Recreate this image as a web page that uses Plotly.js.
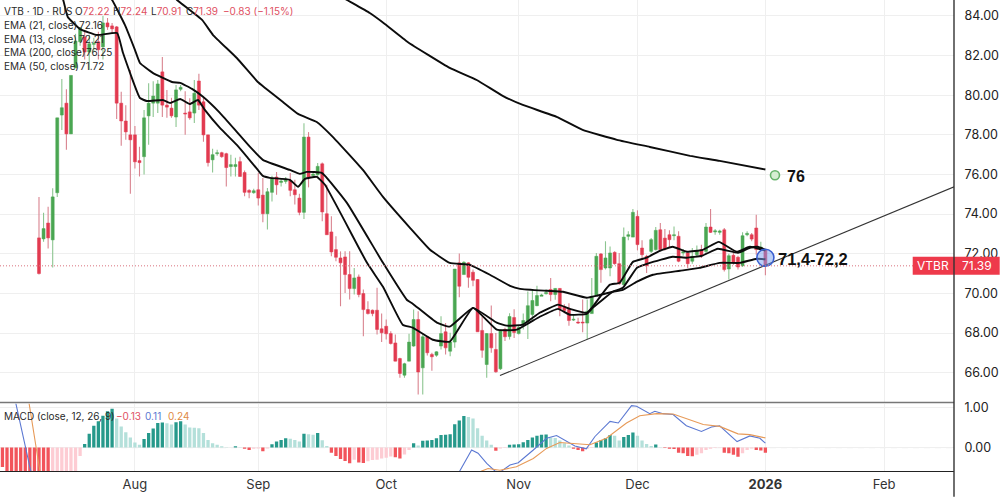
<!DOCTYPE html>
<html><head><meta charset="utf-8">
<script src="https://cdn.plot.ly/plotly-3.0.1.min.js"></script>
<style>html,body{margin:0;padding:0;background:#fff}#c{width:1000px;height:497px}</style>
</head><body><div id="c"></div>
<script>
// Candles, bar 1..160
const open_=[72.8,72.75,73.55,72.7,75.08,79.0,79.6,78.05,81.38,82.7,82.94,82.18,82.57,82.7,82.44,83.65,83.5,83.45,79.6,78.7,
78.0,78.0,76.7,76.9,78.96,79.6,79.6,81.18,79.5,79.35,78.9,80.3,79.1,79.16,79.1,80.72,79.67,78.0,76.74,77.05,
77.1,77.05,76.4,76.4,76.65,76.1,75.2,75.08,75.23,74.96,74.02,75.1,75.87,75.6,75.65,75.7,75.23,74.81,74.09,77.89,
75.95,75.99,76.54,74.02,73.1,72.21,71.79,71.84,70.95,70.24,70.83,69.99,69.18,69.15,69.15,68.21,68.34,67.97,67.5,66.71,
65.87,66.58,67.34,68.68,66.24,67.81,66.92,66.88,67.34,68.06,67.08,67.54,71.54,70.95,71.54,71.07,70.7,68.13,66.41,67.97,
67.17,66.19,68.18,67.82,68.78,67.97,68.38,68.57,68.93,69.38,69.85,69.98,70.2,69.94,70.25,69.33,69.18,68.65,68.55,68.55,
68.5,68.98,69.89,71.99,71.28,71.28,72.07,71.5,70.44,72.88,72.84,73.89,72.29,71.87,72.12,72.21,73.21,72.79,72.96,72.91,
72.88,72.04,72.04,71.62,71.95,72.21,72.12,73.35,73.1,73.08,73.21,71.23,71.92,71.82,71.4,72.96,72.96,73.3,72.21,72.22];
const high_=[74.87,74.07,74.37,75.3,78.86,80.82,80.3,81.0,83.1,83.45,83.2,83.05,82.9,83.2,84.0,83.9,83.65,83.5,80.17,79.5,
81.28,78.45,77.4,79.25,80.6,80.7,80.77,81.93,80.27,79.87,80.52,80.52,80.2,79.85,80.77,81.08,79.9,78.0,77.3,77.25,
77.15,77.1,77.0,76.85,76.9,76.2,75.25,75.28,76.07,75.82,75.32,75.94,76.12,75.82,75.87,76.07,75.74,75.03,78.59,78.14,
76.16,76.58,76.61,75.48,73.89,72.88,72.12,72.12,72.12,71.28,70.95,70.19,69.6,69.18,70.28,68.98,68.68,68.09,67.92,66.75,
66.5,67.96,69.18,69.1,67.92,67.84,67.0,67.08,68.85,68.51,68.01,71.23,72.01,71.62,71.57,71.2,70.73,68.85,68.0,69.39,
68.0,68.18,68.26,69.0,69.2,68.38,68.98,70.1,70.2,70.39,69.98,70.19,70.78,70.27,70.27,69.45,69.5,68.93,68.77,69.69,
69.69,70.78,72.04,72.04,72.63,72.37,72.12,72.04,73.33,73.13,74.26,74.19,72.68,71.95,72.79,73.35,73.55,73.25,73.18,73.38,
73.13,72.24,72.07,72.29,72.41,72.46,73.55,74.26,73.25,73.21,73.3,72.0,72.04,71.9,73.08,73.13,73.05,73.97,72.6,72.24];
const low_=[70.95,72.6,72.26,71.3,74.87,78.25,77.25,78.05,81.38,82.5,81.8,81.28,82.2,81.8,81.8,83.3,83.14,78.8,77.45,77.75,
75.03,76.3,75.9,76.0,77.5,78.9,79.1,78.9,78.86,78.86,78.4,80.2,78.0,78.76,78.6,79.25,77.65,76.4,76.1,76.95,
76.85,75.4,75.9,75.9,75.9,74.9,74.8,75.03,74.43,73.59,73.22,74.64,74.98,75.4,75.53,74.9,74.48,73.94,73.75,75.35,
75.82,75.87,73.64,72.96,71.87,71.62,69.35,70.02,69.69,69.94,69.8,67.84,68.93,68.85,67.92,67.54,67.67,67.42,66.58,65.74,
65.74,66.58,67.3,64.9,64.9,66.87,66.09,66.8,67.17,66.92,66.83,67.25,69.8,70.95,70.28,70.36,68.06,66.75,65.74,67.0,
66.0,66.13,67.59,67.67,67.75,67.92,68.18,67.7,68.67,69.35,69.9,69.94,69.6,69.68,68.85,69.0,68.37,68.6,68.45,68.04,
67.7,68.98,69.89,70.53,71.2,70.86,71.45,70.44,70.44,72.68,72.84,72.17,71.79,71.03,72.04,72.17,72.12,72.17,72.34,72.68,
71.57,71.9,71.28,71.5,71.87,71.79,72.04,73.05,72.96,72.96,71.1,70.7,71.45,71.2,71.33,72.88,72.63,71.95,72.12,70.91];
const close_=[71.0,73.27,72.8,74.87,78.86,79.37,78.05,81.0,82.74,83.4,82.18,82.6,82.62,82.3,83.65,83.45,83.35,79.6,78.7,78.15,
77.75,76.64,76.6,78.86,79.6,79.96,80.57,79.5,79.4,78.96,80.27,80.4,79.05,78.86,80.1,79.5,78.0,76.6,77.0,77.1,
76.9,76.35,76.5,76.5,75.9,75.1,75.1,75.18,74.81,74.02,75.13,75.77,75.48,75.67,75.72,75.2,74.98,74.09,77.89,75.87,
76.02,76.41,74.11,72.96,72.09,71.82,71.54,70.95,70.24,70.78,69.94,69.18,68.98,68.98,68.18,68.01,67.96,67.47,66.58,65.96,
66.45,67.54,68.68,66.03,67.81,67.0,66.8,67.05,67.97,67.25,67.54,71.23,70.36,71.57,70.81,70.66,68.06,67.13,67.97,67.25,
66.04,68.14,67.81,68.83,68.02,68.28,68.63,69.38,69.64,69.89,69.92,70.05,69.94,70.25,69.23,69.13,68.63,68.7,68.5,68.5,
69.1,69.85,71.87,71.2,71.79,72.04,71.5,70.48,72.84,72.96,74.09,72.46,71.95,71.4,72.71,73.18,72.21,72.24,72.71,72.96,
71.62,72.1,71.5,71.87,72.16,71.92,73.35,73.08,73.16,73.15,71.2,71.9,71.57,71.33,72.91,73.03,72.74,72.21,72.34,71.39];

// MACD histogram, bars -7..160
const histogram=[-.48,-.7,-.9,-1.1,-1.3,-1.45,-1.6,-1.7,-1.8,-1.9,-1.95,-1.8,-1.5,-1.2,-.95,-.75,-.6,-.21,
.09,.34,.54,.65,.79,.9,.96,.72,.52,.38,.25,.125,.07,.21,.36,.47,.61,.62,.6,.57,.63,.65,.57,.5,.49,.48,.36,.19,.11,.07,.03,.01,.005,.03,.01,
-.03,-.06,-.03,-.02,-.09,-.02,.08,.15,.19,.23,.22,.19,.15,.34,.33,.32,.36,.18,.04,-.13,-.21,-.28,-.33,-.39,-.3,-.37,-.38,-.34,-.31,-.3,-.27,-.25,-.22,-.24,
-.27,-.17,-.06,.11,.05,.17,.175,.19,.23,.31,.315,.33,.58,.67,.78,.76,.72,.48,.29,.175,.07,-.08,-.02,-.01,
.07,.075,.08,.13,.19,.25,.29,.32,.325,.25,.24,.175,.11,.05,-.03,-.06,-.09,-.03,-.01,.125,.19,.23,.31,.29,.175,.26,.31,.375,.29,.175,.09,.04,.075,.01,
-.01,-.03,-.035,-.125,-.14,-.21,-.215,-.18,-.14,-.06,-.03,-.01,-.005,-.125,-.14,-.18,-.225,-.14,-.06,-.02,-.06,-.075,-.13];

// MACD and signal lines, read at these bar positions
const macdBars=[-6,-4.25,-0.8,1,40,92,93.1,95.7,97.1,99,100.8,101.9,104.1,105.9,109.2,112.1,114.3,116.5,118.3,120.8,122.7,126,127.8,130.7,131.8,134.7,135.8,137.6,139.8,142.7,146,148.2,150,153.8,156.6,158.8,160];
const macdLine=[1.8,1.19,-.58,-1.3,-2,-.8,-.58,-.06,-.14,-.39,-.58,-.61,-.43,-.375,-.06,.23,.3,.15,.04,-.03,.275,.65,.61,1.04,1.025,.84,.9,.84,.82,.54,.4,.51,.54,.15,.29,.23,.11];
const signalBars=[-3,-1.3,1.2,5,50,96,97.9,99.3,101.9,105.5,109.2,112.1,115,118.7,121.6,125.2,129.6,132.5,136.2,139.8,142.7,146.4,150,154,156.6,160];
const signalLine=[2,1.19,-.58,-1.2,-1.6,-.7,-.58,-.52,-.56,-.475,-.27,-.02,.125,.09,.07,.23,.61,.79,.84,.83,.71,.57,.525,.34,.32,.24];

// EMAs, read at these bar positions
const ema200Bars=[64.7,68.4,73.4,76.7,81.7,90.9,96.8,102.5,106.9,114.3,120,127.5,134.7,143.5,150,160];
const ema200=[85.31,84.81,84.15,83.6,82.69,81.38,80.77,79.97,79.51,78.91,78.25,77.75,77.39,76.94,76.69,76.25];
const ema50Bars=[28.6,31.2,36.7,39.1,44.3,48.9,50.5,54.4,57.7,61.8,65.3,71.9,76.3,82.2,86.6,90.9,95.3,99.7,104.1,106.3,112.2,115.7,120.9,123.1,126.6,128.8,131.9,135.4,141.3,145.6,150,154.4,158.1,160];
const ema50=[85.41,84.81,83.8,83.04,81.88,80.67,80.37,79.66,79.06,78.65,77.9,76.23,74.87,73.31,72.2,71.54,71.44,70.94,70.38,70.23,70.13,70.08,69.78,69.88,70.08,70.18,70.59,70.94,71.14,71.29,71.54,71.54,71.75,71.72];
const ema21Bars=[14.3,17,19.8,22,23.1,25.9,30.1,31.9,34.5,36.9,40.6,44.3,47.2,50,55.9,58.1,59.6,62.9,68.4,76.3,81.5,82.8,88.1,90.9,96,101.2,103.4,106.9,110.6,114.6,117.2,120.9,122.2,125.9,128.1,131,134,136.9,139.7,142.8,146.3,149.8,153.7,156.6,160];
const ema21=[85.56,84.81,83.55,82.29,81.63,81.13,80.67,80.62,80.32,79.92,79.11,78.15,77.39,76.74,76.23,76.03,76.13,76.08,74.57,71.54,69.68,69.48,68.52,68.32,69.27,68.52,68.37,68.42,69.02,69.43,69.22,69.02,69.33,70.43,70.54,71.59,71.8,72.15,72.35,72.1,72.2,72.6,72.1,72.35,72.16];
const ema13Bars=[4.5,6.3,7.3,10,13.7,18.1,19.4,23.1,24.6,28.1,29.7,31.9,34,35.8,37.3,40.6,44.3,46.7,48.9,50,51.5,55.9,57.7,59.2,61.8,63.6,72.8,76.3,80.6,82.8,87.2,90.9,96,101.2,105.6,110.6,114.6,117.2,120.9,122.2,126.6,128.8,131.9,134.7,139.7,142.8,146.1,149.6,154,156.6,158.3,160];
const ema13=[85.8,84.81,83.95,83.34,83.04,83.14,82.13,79.86,79.71,79.76,79.61,79.81,79.56,79.76,79.26,78.35,77.49,76.84,76.23,75.93,75.83,75.73,75.38,75.78,75.88,75.48,71.54,70.33,68.42,68.27,67.66,67.56,69.27,68.17,68.17,68.82,69.22,68.92,68.97,69.27,70.08,70.28,71.29,71.54,71.85,71.8,71.9,72.25,72.05,72.3,72.35,72.2];

// Trendline and markers
const trendBars=[101.9,201.3];
const trendPrices=[65.85,75.38];
const targetBar=[162.1], targetPrice=[75.96];
const zoneBar=[160], zonePrice=[71.8];
const lastPrice=71.39;

// Axis labels
const dateTicks=[22,49,77,106,132,160,186];
const dateLabels=['Aug','Sep','Oct','Nov','Dec','<b>2026</b>','Feb'];
const priceTicks=[66,68,70,72,74,76,78,80,82,84];
const macdTicks=[0,1];

const W=954.3,H=471.3;
const FONT='Inter, Roboto, sans-serif';
const px=x=>x/W, py=y=>(H-y)/H;
const bars=open_.map((_,i)=>i+1);
const histBars=histogram.map((_,i)=>i-7);
const GREEN='#4aa652',RED='#e23a50',GW='#8cc590',RW='#d9838f';
const isUp=i=>close_[i]>=open_[i];

const histColors=histogram.map((v,i)=>{
  const p=i?histogram[i-1]:0;
  if(v>=0) return v>=p?'#26998b':'#b4e0da';
  return v<p?'#f2545b':'#fdccd3';
});

const emaTrace=(x,y)=>({type:'scatter',mode:'lines',x,y,xaxis:'x',yaxis:'y',line:{color:'#0c0c0c',width:1.9,shape:'spline',smoothing:.35},hoverinfo:'skip'});

const data=[
 // wicks: low to high
 {type:'bar',x:bars,base:low_,y:high_.map((h,i)=>h-low_[i]),xaxis:'x',yaxis:'y',width:.24,
  marker:{color:bars.map((_,i)=>isUp(i)?GW:RW),line:{width:0}},hoverinfo:'skip'},
 // bodies: open to close
 {type:'bar',x:bars,base:open_.map((o,i)=>Math.min(o,close_[i])),y:open_.map((o,i)=>Math.abs(o-close_[i])),xaxis:'x',yaxis:'y',width:.66,
  marker:{color:bars.map((_,i)=>isUp(i)?GREEN:RED),line:{color:bars.map((_,i)=>isUp(i)?GREEN:RED),width:.5}},hoverinfo:'skip'},
 emaTrace(ema200Bars,ema200),emaTrace(ema50Bars,ema50),emaTrace(ema21Bars,ema21),emaTrace(ema13Bars,ema13),
 {type:'scatter',mode:'lines',x:trendBars,y:trendPrices,xaxis:'x',yaxis:'y',line:{color:'#333',width:1.1},hoverinfo:'skip'},
 {type:'scatter',mode:'markers',x:targetBar,y:targetPrice,xaxis:'x',yaxis:'y',marker:{size:9,color:'#d5eed2',line:{color:'#66b36b',width:1.6}},hoverinfo:'skip'},
 {type:'scatter',mode:'markers',x:zoneBar,y:zonePrice,xaxis:'x',yaxis:'y',marker:{size:17,color:'rgba(120,160,240,.5)',line:{color:'#3b5fd0',width:1.6}},hoverinfo:'skip'},
 {type:'bar',x:histBars,y:histogram,xaxis:'x',yaxis:'y2',width:.72,marker:{color:histColors,line:{width:0}},hoverinfo:'skip'},
 {type:'scatter',mode:'lines',x:macdBars,y:macdLine,xaxis:'x',yaxis:'y2',line:{color:'#5b78d2',width:1.1},hoverinfo:'skip'},
 {type:'scatter',mode:'lines',x:signalBars,y:signalLine,xaxis:'x',yaxis:'y2',line:{color:'#e79a58',width:1.1},hoverinfo:'skip'}
];

const R='#e0505f',T='#2a2a2a';
const note=(x,y,text,opt={})=>Object.assign({xref:'paper',yref:'paper',x:px(x),y:py(y),xanchor:'left',yanchor:'middle',showarrow:false,text,borderpad:0,
  font:{family:FONT,size:10,color:T}},opt);
const col=(c,t)=>`<span style="color:${c}">${t}</span>`;
const annotations=[
 note(3,11.5,'VTB · 1D · RUS'),
 note(74,11.5,'O'+col(R,'72.22')),note(112,11.5,'H'+col(R,'72.24')),note(150,11.5,'L'+col(R,'70.91')),note(185,11.5,'C'+col(R,'71.39')),note(222,11.5,col(R,'−0.83 (−1.15%)')),
 note(3,25.5,'EMA (21, close)'),note(78,25.5,'72.16'),
 note(3,39,'EMA (13, close)'),note(78,39,'72.21'),
 note(3,52.5,'EMA (200, close)'),note(85,52.5,'76.25'),
 note(3,66,'EMA (50, close)'),note(79,66,'71.72'),
 note(3,416,'MACD (close, 12, 26, 9)'),note(115,416,col(R,'−0.13')),note(144,416,col('#5b78d2','0.11')),note(167,416,col('#e08a45','0.24')),
 note(786,177,'<b>76</b>',{font:{family:'Liberation Sans',size:16,color:'#111'}}),
 note(777,259,'<b>71,4-72,2</b>',{font:{family:'Liberation Sans',size:16.5,color:'#111'}}),
 note(933.5,266,'VTBR',{xanchor:'center',font:{family:FONT,size:12,color:'#fff'}}),
 note(977,266,'71.39',{xanchor:'center',font:{family:FONT,size:12,color:'#fff'}})
];

const shapes=[
 {type:'line',layer:'below',xref:'paper',yref:'y2',x0:0,x1:1,y0:0,y1:0,line:{color:'#cfcfcf',width:1,dash:'6px,5px'}},
 {type:'line',layer:'above',xref:'paper',yref:'y',x0:0,x1:1,y0:lastPrice,y1:lastPrice,line:{color:'#d9707c',width:1,dash:'1px,2px'}},
 {type:'rect',layer:'above',xref:'paper',yref:'paper',x0:px(913),x1:1,y0:py(275),y1:py(257),fillcolor:'#ee3a4b',line:{width:0}},
 {type:'rect',layer:'above',xref:'paper',yref:'paper',x0:1,x1:px(1000),y0:py(275),y1:py(257),fillcolor:'#ee3a4b',line:{width:0}},
 {type:'line',layer:'above',xref:'paper',yref:'paper',x0:0,x1:1,y0:py(402.7),y1:py(402.7),line:{color:'#777',width:1.6}},
 {type:'line',layer:'above',xref:'paper',yref:'paper',x0:1,x1:1,y0:py(497),y1:1,line:{color:'#333',width:1.4}}
];

const layout={
 width:1000,height:497,margin:{l:0,r:1000-W,t:0,b:497-H,pad:0},paper_bgcolor:'#fff',plot_bgcolor:'#fff',showlegend:false,
 font:{family:FONT,color:'#222'},barmode:'overlay',
 xaxis:{domain:[0,1],range:[1-39/4.57,1+915.3/4.57],anchor:'y2',type:'linear',tickmode:'array',tickvals:dateTicks,ticktext:dateLabels,
  showgrid:true,gridcolor:'#efefef',gridwidth:1,zeroline:false,showline:true,linecolor:'#222',linewidth:1.3,ticks:'outside',ticklen:1,tickcolor:'rgba(0,0,0,0)',
  tickfont:{family:FONT,size:13,color:'#333'},fixedrange:true},
 yaxis:{domain:[py(403),1],range:[64.48,84.807],side:'right',anchor:'x',tickmode:'array',tickvals:priceTicks,ticktext:priceTicks.map(v=>v.toFixed(2)),
  showgrid:true,gridcolor:'#efefef',gridwidth:1,zeroline:false,showline:false,ticks:'outside',ticklen:7,tickcolor:'rgba(0,0,0,0)',
  tickfont:{family:FONT,size:12.5,color:'#222'},fixedrange:true},
 yaxis2:{domain:[0,py(404)],range:[-.58,1.086],side:'right',anchor:'x',tickmode:'array',tickvals:macdTicks,ticktext:macdTicks.map(v=>v.toFixed(2)),
  showgrid:true,gridcolor:'#efefef',zeroline:false,showline:false,ticks:'outside',ticklen:7,tickcolor:'rgba(0,0,0,0)',
  tickfont:{family:FONT,size:12.5,color:'#222'},fixedrange:true},
 shapes,annotations
};
Plotly.newPlot('c',data,layout,{displayModeBar:false,staticPlot:true});
</script></body></html>
